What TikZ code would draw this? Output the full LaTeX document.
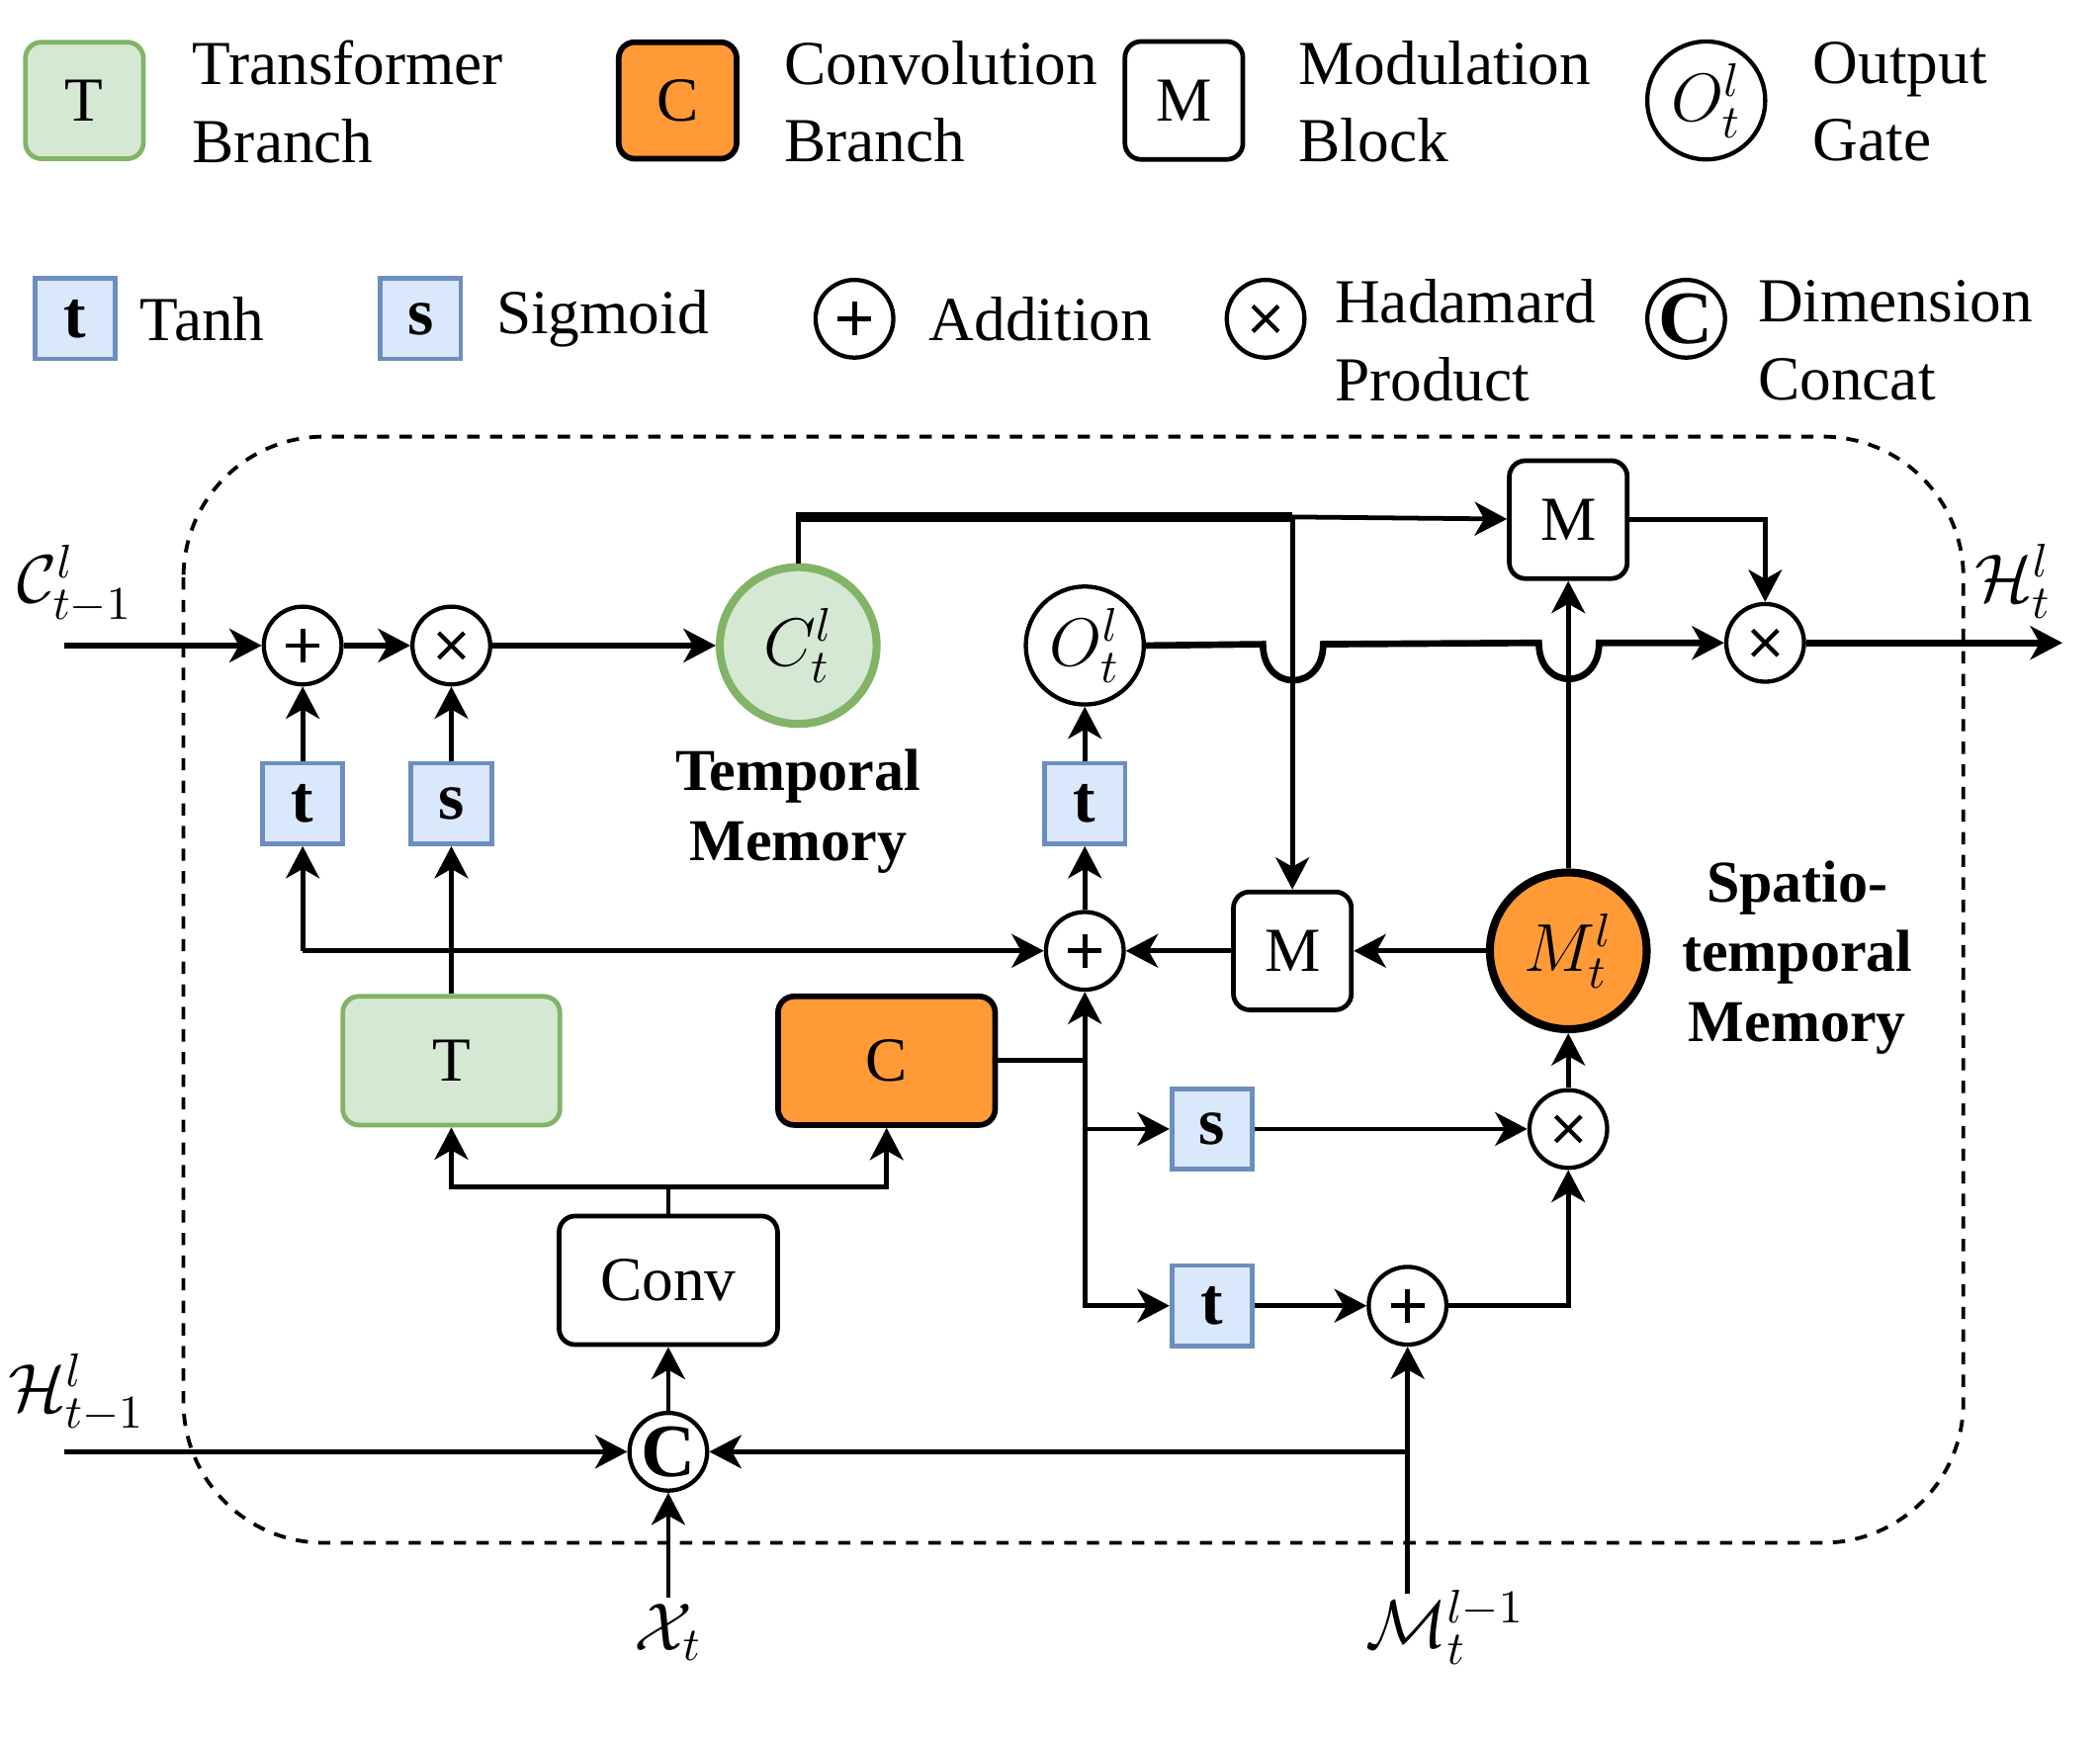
\RequirePackage{fix-cm}
\documentclass[tikz,border=0pt]{standalone}
\usepackage[no-math]{fontspec}
\setmainfont{Liberation Serif}
\usetikzlibrary{arrows.meta}
\definecolor{gfill}{HTML}{D5E8D4}
\definecolor{gline}{HTML}{82B366}
\definecolor{ofill}{HTML}{FF9A36}
\definecolor{bfill}{HTML}{DAE8FC}
\definecolor{bline}{HTML}{6C8EBF}
\newcommand{\fs}{\fontsize{13.3}{16.5}\selectfont}
\newcommand{\mfs}{\fontsize{14.4}{16.5}\selectfont}
\begin{document}
\begin{tikzpicture}[x=0.01cm,y=-0.01cm,
  font=\fs,
  thin line/.style={line width=1pt},
  main line/.style={line width=1.4pt},
  arr/.style={-{Stealth[length=0.24cm,width=0.25cm,inset=0.07cm]}},
  op/.style={circle,draw,line width=0.9pt,minimum size=0.58cm,inner sep=0pt,fill=white},
  plusop/.style={op,path picture={
      \draw[line width=1pt] ([xshift=-0.125cm]path picture bounding box.center) -- ([xshift=0.125cm]path picture bounding box.center);
      \draw[line width=1pt] ([yshift=-0.125cm]path picture bounding box.center) -- ([yshift=0.125cm]path picture bounding box.center);}},
  timesop/.style={op,path picture={
      \draw[line width=0.9pt] ([shift={(-0.095cm,-0.095cm)}]path picture bounding box.center) -- ([shift={(0.095cm,0.095cm)}]path picture bounding box.center);
      \draw[line width=0.9pt] ([shift={(-0.095cm,0.095cm)}]path picture bounding box.center) -- ([shift={(0.095cm,-0.095cm)}]path picture bounding box.center);}},
  catop/.style={op,font=\fontsize{16}{16}\selectfont\bfseries},
  actbox/.style={rectangle,draw=bline,fill=bfill,line width=1pt,minimum size=0.6cm,inner sep=0pt,font=\fontsize{14.2}{16}\selectfont\bfseries},
  tbox/.style={rectangle,rounded corners=0.12cm,draw=gline,fill=gfill,line width=1pt,inner sep=0pt},
  cbox/.style={rectangle,rounded corners=0.12cm,draw=black,fill=ofill,line width=1.2pt,inner sep=0pt},
  mbox/.style={rectangle,rounded corners=0.12cm,draw=black,fill=white,line width=1pt,inner sep=0pt,minimum width=0.88cm,minimum height=0.88cm},
  legtext/.style={anchor=west,align=left,inner sep=0pt},
  mathlabel/.style={font=\mfs,inner sep=1pt},
  bold label/.style={align=center,font=\fontsize{12.6}{14.8}\selectfont\bfseries,inner sep=0pt}
]
\useasboundingbox (0,0) rectangle (1568,1302);

% ---------- legend row 1 ----------
\node[tbox,minimum width=0.88cm,minimum height=0.87cm] (legT) at (63,75) {T};
\node[legtext] (legTt) at (143,76) {Transformer\\Branch};
\node[cbox,minimum width=0.88cm,minimum height=0.87cm] (legC) at (506,75) {C};
\node[legtext] (legCt) at (585,76) {Convolution\\Branch};
\node[mbox] (legM) at (884,75) {M};
\node[legtext] (legMt) at (969,76) {Modulation\\Block};
\node[op,minimum size=0.88cm,font=\mfs] (legO) at (1274,75) {$O_t^l$};
\node[legtext] (legOt) at (1353,76) {Output\\Gate};

% ---------- legend row 2 ----------
\node[actbox] (legt) at (56,238) {t};
\node[legtext] (legtt) at (104,238) {Tanh};
\node[actbox] (legs) at (314,238) {s};
\node[legtext] (legst) at (370,238) {Sigmoid};
\node[plusop] (legp) at (638,238) {};
\node[legtext] (legpt) at (693,238) {Addition};
\node[timesop] (legx) at (945,238) {};
\node[legtext] (legxt) at (996,254) {Hadamard\\Product};
\node[catop] (legc) at (1259,238) {C};
\node[legtext] (legct) at (1312,254) {Dimension\\Concat};

% ---------- dashed cell ----------
\draw[dashed,dash pattern=on 2.6pt off 2.2pt,line width=0.8pt,rounded corners=1.05cm] (137,326) rectangle (1466,1152);

% ---------- nodes ----------
\node[plusop] (plusA) at (226,482) {};
\node[timesop] (timesA) at (337,482) {};
\node[circle,draw=gline,fill=gfill,line width=1.7pt,minimum size=1.17cm,inner sep=0pt,font=\mfs] (Ct) at (596,482) {$C_t^l$};
\node[bold label] (tml) at (596,606) {Temporal\\Memory};
\node[op,minimum size=0.88cm,font=\mfs] (Ot) at (810,482) {$O_t^l$};
\node[actbox] (tA) at (226,600) {t};
\node[actbox] (sA) at (337,600) {s};
\node[actbox] (tO) at (810,600) {t};
\node[plusop] (plusB) at (810,710) {};
\node[mbox] (Mlow) at (965,710) {M};
\node[circle,draw=black,fill=ofill,line width=1.7pt,minimum size=1.17cm,inner sep=0pt,font=\mfs] (Mt) at (1171,710) {$M_t^l$};
\node[bold label] (stl) at (1342,715) {Spatio-\\temporal\\Memory};
\node[mbox] (Mtop) at (1171,388) {M};
\node[timesop] (timesOut) at (1318,480) {};
\node[tbox,minimum width=1.62cm,minimum height=0.96cm] (Tb) at (337,792) {T};
\node[cbox,minimum width=1.62cm,minimum height=0.96cm] (Cb) at (662,792) {C};
\node[mbox,minimum width=1.63cm,minimum height=0.96cm] (Conv) at (499,956) {Conv};
\node[catop] (cat) at (499,1084) {C};
\node[actbox] (sB) at (905,843) {s};
\node[actbox] (tB) at (905,975) {t};
\node[timesop] (timesM) at (1171,843) {};
\node[plusop] (plusM) at (1051,975) {};

% ---------- outer labels ----------
\node[mathlabel] (lc) at (56,436) {$\mathcal{C}^l_{t-1}$};
\node[mathlabel] (lh) at (57,1040) {$\mathcal{H}^l_{t-1}$};
\node[mathlabel] (lho) at (1503,434) {$\mathcal{H}^l_t$};
\node[mathlabel] (lx) at (499,1219) {$\mathcal{X}_t$};
\node[mathlabel] (lm) at (1079,1215) {$\mathcal{M}^{l-1}_t$};

% ---------- coordinates ----------
\coordinate (cin) at (48,482);
\coordinate (hin) at (48,1084);
\coordinate (hout) at (1540,480);
\coordinate (xin) at (499,1193);
\coordinate (min) at (1051,1190);
\coordinate (jM) at (1051,1084);
\coordinate (jtop) at (965,386);
\coordinate (jL) at (226,710);
\coordinate (jC) at (810,792);
\coordinate (jConv) at (499,886);

% ---------- connectors ----------
\draw[main line,arr] (cin) -- (plusA);
\draw[main line,arr] (plusA) -- (timesA);
\draw[main line,arr] (timesA) -- (Ct);
\draw[thin line,arr] (tA) -- (plusA);
\draw[thin line,arr] (sA) -- (timesA);

\draw[thin line] (Ct.north) -- (Ct.north |- jtop);
\draw[line width=2pt] ([xshift=-0.5pt]Ct.north |- jtop) -- (jtop);
\draw[thin line,arr] (jtop) -- (Mtop);
\draw[thin line,arr] (jtop) -- (Mlow);

\draw[main line,arr] (Ot.east) -- (943,481)
   .. controls +(0,36) and +(0,36) .. (988,481) -- (1149,480)
   .. controls +(0,36) and +(0,36) .. (1194,480) -- (timesOut);
\draw[thin line,arr] (Mtop.east) -| (timesOut);
\draw[main line,arr] (timesOut) -- (hout);

\draw[thin line,arr] (tO) -- (Ot);
\draw[thin line,arr] (plusB) -- (tO);
\draw[thin line,arr] (Mlow) -- (plusB);
\draw[thin line,arr] (Mt) -- (Mlow);
\draw[thin line,arr] (Mt) -- (Mtop);

\draw[thin line,arr] (Tb) -- (sA);
\draw[thin line,arr] (jL) -- (tA);
\draw[thin line,arr] (jL) -- (plusB);

\draw[thin line,arr] (Cb.east) -| (plusB);
\draw[thin line,arr] (jC) |- (sB);
\draw[thin line,arr] (jC) |- (tB);
\draw[thin line,arr] (sB) -- (timesM);
\draw[thin line,arr] (timesM) -- (Mt);
\draw[thin line,arr] (tB) -- (plusM);
\draw[thin line,arr] (plusM) -| (timesM);

\draw[thin line] (Conv) -- (jConv);
\draw[thin line,arr] (jConv) -| (Tb);
\draw[thin line,arr] (jConv) -| (Cb);
\draw[thin line,arr] (cat) -- (Conv);
\draw[thin line,arr] (hin) -- (cat);
\draw[thin line,arr] (xin) -- (cat);
\draw[thin line,arr] (min) -- (plusM);
\draw[thin line,arr] (jM) -- (cat);
\end{tikzpicture}
\end{document}
